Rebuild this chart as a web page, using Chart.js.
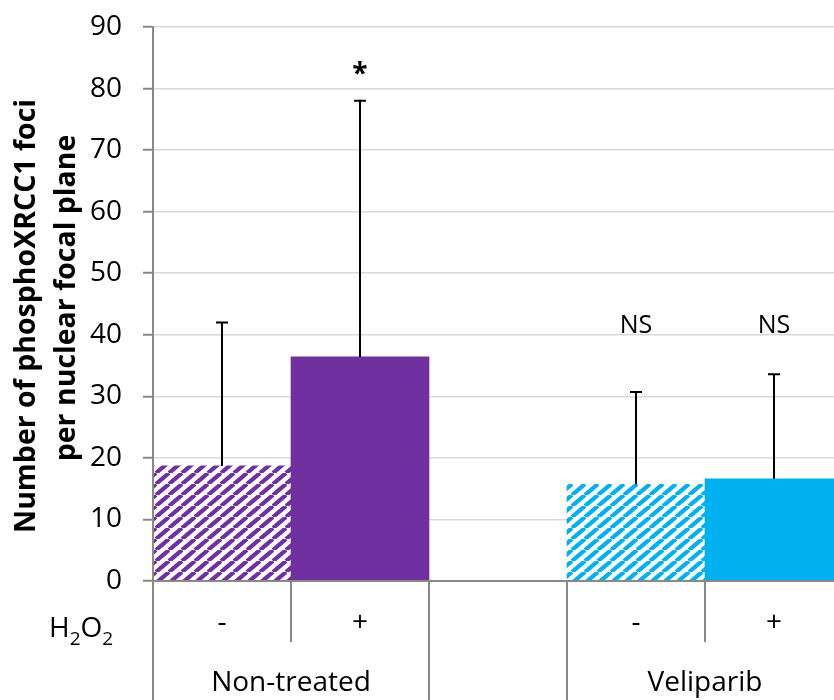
<!DOCTYPE html>
<html>
<head>
<meta charset="utf-8">
<script src="https://cdn.jsdelivr.net/npm/chart.js@4.4.0/dist/chart.umd.min.js"></script>
<style>
  html, body { margin: 0; padding: 0; background: #fff; overflow: hidden; }
  #wrap { width: 843px; height: 700px; }
</style>
</head>
<body>
<div id="wrap"><canvas id="chart" width="843" height="700"></canvas></div>
<script>
// values
const conditions = ['-', '+', '', '-', '+'];
const means = [18.7, 36.4, null, 15.7, 16.6];
const errorTops = [42, 78, null, 30.7, 33.6];
const sigLabels = ['', '*', '', 'NS', 'NS'];
const sigLevels = [null, 82.2, null, 41.4, 41.4];
const groupLabels = ['Non-treated', 'Veliparib'];
const groupFirst = [0, 3];
const groupLast = [1, 4];
const yTicks = [0, 10, 20, 30, 40, 50, 60, 70, 80, 90];

const PURPLE = '#7030a0';
const BLUE = '#00b0f0';
const AXIS = '#898989';
const FONT = '"Open Sans", sans-serif';

function hatch(color) {
  const w = 13, h = 11;
  const c = document.createElement('canvas');
  c.width = w;
  c.height = h;
  const g = c.getContext('2d');
  g.fillStyle = '#fff';
  g.fillRect(0, 0, w, h);
  g.strokeStyle = color;
  g.lineWidth = 4.2;
  for (let k = -1; k <= 1; k++) {
    g.beginPath();
    g.moveTo(k * w, h);
    g.lineTo(k * w + w, 0);
    g.stroke();
  }
  return g.createPattern(c, 'repeat');
}

const barColors = [hatch(PURPLE), PURPLE, '#fff', hatch(BLUE), BLUE];

// error bars (upper only) and significance marks
const errorBarPlugin = {
  id: 'errorBars',
  afterDatasetsDraw(chart) {
    const ctx = chart.ctx;
    const y = chart.scales.y;
    const meta = chart.getDatasetMeta(0);
    ctx.save();
    ctx.strokeStyle = '#000';
    ctx.lineWidth = 2;
    errorTops.forEach((top, i) => {
      if (top == null) return;
      const x = Math.round(meta.data[i].x);
      const yt = y.getPixelForValue(top);
      const yb = y.getPixelForValue(means[i]);
      ctx.beginPath();
      ctx.moveTo(x, yb);
      ctx.lineTo(x, yt);
      ctx.moveTo(x - 6, yt);
      ctx.lineTo(x + 6, yt);
      ctx.stroke();
    });
    ctx.fillStyle = '#000';
    ctx.textAlign = 'center';
    ctx.textBaseline = 'middle';
    sigLabels.forEach((s, i) => {
      if (!s) return;
      ctx.font = s === '*' ? 'bold 28px ' + FONT : '25px ' + FONT;
      ctx.fillText(s, meta.data[i].x, y.getPixelForValue(sigLevels[i]));
    });
    ctx.restore();
  }
};

// category table below the x axis, y title
const axisTablePlugin = {
  id: 'axisTable',
  afterDraw(chart) {
    const ctx = chart.ctx;
    const x = chart.scales.x;
    const area = chart.chartArea;
    const half = (x.getPixelForValue(1) - x.getPixelForValue(0)) / 2;
    const bottom = chart.height;
    ctx.save();

    // separators
    ctx.strokeStyle = AXIS;
    ctx.lineWidth = 2;
    const longEdges = new Set();
    groupFirst.forEach((f, g) => {
      longEdges.add(f);
      longEdges.add(groupLast[g] + 1);
    });
    groupFirst.forEach((f, g) => {
      for (let e = f; e <= groupLast[g] + 1; e++) {
        const px = Math.round(x.getPixelForValue(e) - half);
        ctx.beginPath();
        ctx.moveTo(px, area.bottom);
        ctx.lineTo(px, longEdges.has(e) ? bottom : area.bottom + 61);
        ctx.stroke();
      }
    });

    // condition row
    ctx.fillStyle = '#000';
    ctx.textAlign = 'center';
    ctx.textBaseline = 'middle';
    ctx.font = '28px ' + FONT;
    conditions.forEach((c, i) => {
      if (c) ctx.fillText(c, x.getPixelForValue(i), area.bottom + 42);
    });

    // group row
    groupLabels.forEach((label, g) => {
      const cx = (x.getPixelForValue(groupFirst[g]) + x.getPixelForValue(groupLast[g])) / 2;
      ctx.fillText(label, cx, area.bottom + 102);
    });

    // H2O2 with subscripts
    ctx.textAlign = 'left';
    ctx.textBaseline = 'alphabetic';
    let px = 49;
    const base = area.bottom + 56;
    [['H', false], ['2', true], ['O', false], ['2', true]].forEach(([t, sub]) => {
      ctx.font = (sub ? '19px ' : '28px ') + FONT;
      ctx.fillText(t, px, sub ? base + 8 : base);
      px += ctx.measureText(t).width;
    });

    // y title
    ctx.font = 'bold 28.5px ' + FONT;
    ctx.textAlign = 'center';
    ctx.textBaseline = 'middle';
    ctx.save();
    ctx.translate(27, 316);
    ctx.rotate(-Math.PI / 2);
    ctx.fillText('Number of phosphoXRCC1 foci', 0, 0);
    ctx.restore();
    ctx.save();
    ctx.translate(67, 298);
    ctx.rotate(-Math.PI / 2);
    ctx.fillText('per nuclear focal plane', 0, 0);
    ctx.restore();

    ctx.restore();
  }
};

new Chart(document.getElementById('chart'), {
  type: 'bar',
  data: {
    labels: conditions.map((c, i) => i),
    datasets: [{
      data: means,
      backgroundColor: barColors,
      borderWidth: 0,
      barPercentage: 1,
      categoryPercentage: 1
    }]
  },
  options: {
    responsive: false,
    animation: false,
    events: [],
    layout: { padding: { top: 27, left: 0, right: 0, bottom: 0 } },
    plugins: {
      legend: { display: false },
      tooltip: { enabled: false }
    },
    scales: {
      x: {
        ticks: { display: false },
        grid: { display: false },
        border: { color: AXIS, width: 2, z: 1 },
        afterFit: (s) => { s.height = 119; }
      },
      y: {
        min: 0,
        max: 90,
        afterBuildTicks: (s) => { s.ticks = yTicks.map((v) => ({ value: v })); },
        ticks: {
          color: '#000',
          padding: 21,
          font: { family: FONT, size: 28 }
        },
        grid: { color: '#d9d9d9', lineWidth: 1.5, tickColor: AXIS, tickLength: 10, tickWidth: 2 },
        border: { color: AXIS, width: 2, z: 1 },
        afterFit: (s) => {
          s.width = 153;
          s.paddingTop = 0;
          s.paddingBottom = 0;
        }
      }
    }
  },
  plugins: [errorBarPlugin, axisTablePlugin]
});
</script>
</body>
</html>
